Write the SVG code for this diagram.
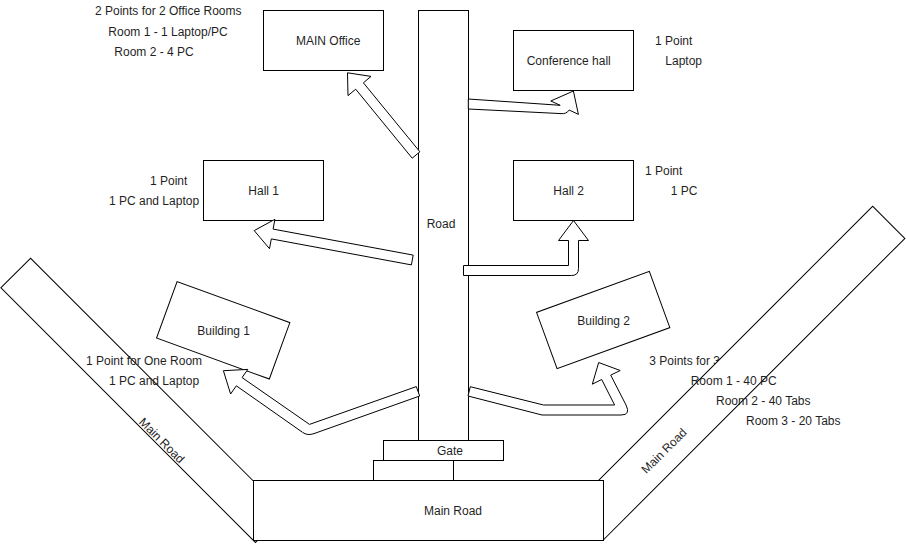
<svg xmlns="http://www.w3.org/2000/svg" width="906" height="545" viewBox="0 0 906 545">
<style>
  .box { fill: #ffffff; stroke: #000000; stroke-width: 1; }
  .arrow { fill: #ffffff; stroke: #000000; stroke-width: 1; stroke-linejoin: miter; }
  text { font-family: "Liberation Sans", Arial, Helvetica, sans-serif; font-size: 12px; fill: #1f1f1f; }
  .c { text-anchor: middle; }
</style>
<rect x="0" y="0" width="906" height="545" fill="#ffffff"/>

<g id="note-building2-title">
  <text x="649.3" y="364.5">3 Points for 3</text>
</g>

<g id="main-road-left">
  <rect class="box" x="-180" y="-21" width="360" height="42" transform="translate(143,400.3) rotate(45)"/>
  <text class="c" x="0" y="4" transform="translate(161.7,440.5) rotate(45)">Main Road</text>
</g>
<g id="main-road-right">
  <rect class="box" x="-213.5" y="-22.75" width="427" height="45.5" transform="translate(737.8,373.3) rotate(-45)"/>
  <text class="c" x="0" y="4" transform="translate(664,451) rotate(-45)">Main Road</text>
</g>

<g id="main-road">
  <rect class="box" x="253.5" y="480.5" width="350" height="60"/>
  <text x="424" y="515">Main Road</text>
</g>
<g id="gate-step">
  <rect class="box" x="373.5" y="460.5" width="80" height="20"/>
</g>
<g id="gate">
  <rect class="box" x="383.5" y="440.5" width="120" height="20"/>
  <text class="c" x="450" y="455">Gate</text>
</g>
<g id="road">
  <rect class="box" x="418.5" y="10.5" width="50" height="430"/>
  <text class="c" x="441" y="228">Road</text>
</g>

<g id="main-office">
  <rect class="box" x="263.5" y="10.5" width="120" height="60"/>
  <text x="296" y="45">MAIN Office</text>
</g>
<g id="conference-hall">
  <rect class="box" x="513.5" y="30.5" width="120" height="60"/>
  <text x="526.7" y="65">Conference hall</text>
</g>
<g id="hall-1">
  <rect class="box" x="203.5" y="160.5" width="120" height="60"/>
  <text x="248.3" y="195">Hall 1</text>
</g>
<g id="hall-2">
  <rect class="box" x="513.5" y="160.5" width="120" height="60"/>
  <text x="553.3" y="195">Hall 2</text>
</g>
<g id="building-1">
  <rect class="box" x="-60" y="-30" width="120" height="60" transform="translate(223.2,330.3) rotate(20)"/>
  <text x="197.3" y="335">Building 1</text>
</g>
<g id="building-2">
  <rect class="box" x="-60" y="-30" width="120" height="60" transform="translate(603.2,320) rotate(-20)"/>
  <text x="577.3" y="325">Building 2</text>
</g>

<g id="connectors">
  <path class="arrow" d="M 347.5,72.8 L 371,76.4 L 363.4,82.8 L 419.9,151.8 L 412.2,158.2 L 355.7,89.2 L 348,95.6 Z"/>
  <path class="arrow" d="M 468.3,99 L 560.2,105.3 L 550.8,101 L 573.4,91 L 578.4,114.4 L 569.2,110 Q 566.5,114.2 561,113.6 L 468.3,109 Z"/>
  <path class="arrow" d="M 254.2,230.6 L 274.9,219.3 L 273.1,229.1 L 413.2,255.1 L 411.4,264.9 L 271.3,238.9 L 269.5,248.7 Z"/>
  <path class="arrow" d="M 463.5,265.5 L 568.5,265.5 L 568.5,240.5 L 558.5,240.5 L 573.5,220.5 L 588.5,240.5 L 578.5,240.5 L 578.5,268.5 Q 578.5,275.5 571.5,275.5 L 463.5,275.5 Z"/>
  <path class="arrow" d="M 223.4,370.7 L 247.8,369.4 L 242.1,377.6 L 309.5,424.4 L 416.3,386.6 L 419.7,396 L 314,433.6 Q 307.5,436 302.5,432.3 L 236.3,385.8 L 230.6,394 Z"/>
  <path class="arrow" d="M 470.3,386.7 L 543.5,405 L 614.6,405 L 601.7,379.5 L 592.3,384.2 L 598.7,362.5 L 620.2,370.5 L 610.7,375.1 L 626,405 Q 631,415 621,415 L 542,415 L 468,396 Z"/>
</g>

<g id="notes">
  <text x="95" y="15">2 Points for 2 Office Rooms</text>
  <text x="108.3" y="36">Room 1 - 1 Laptop/PC</text>
  <text x="114.3" y="56">Room 2 - 4 PC</text>
  <text x="655" y="45">1 Point</text>
  <text x="665.3" y="65">Laptop</text>
  <text x="150" y="185">1 Point</text>
  <text x="109" y="205">1 PC and Laptop</text>
  <text x="645" y="175">1 Point</text>
  <text x="670.7" y="195">1 PC</text>
  <text x="86" y="365">1 Point for One Room</text>
  <text x="109" y="385">1 PC and Laptop</text>
  <text x="690.7" y="385">Room 1 - 40 PC</text>
  <text x="716" y="405">Room 2 - 40 Tabs</text>
  <text x="746" y="425">Room 3 - 20 Tabs</text>
</g>
</svg>
